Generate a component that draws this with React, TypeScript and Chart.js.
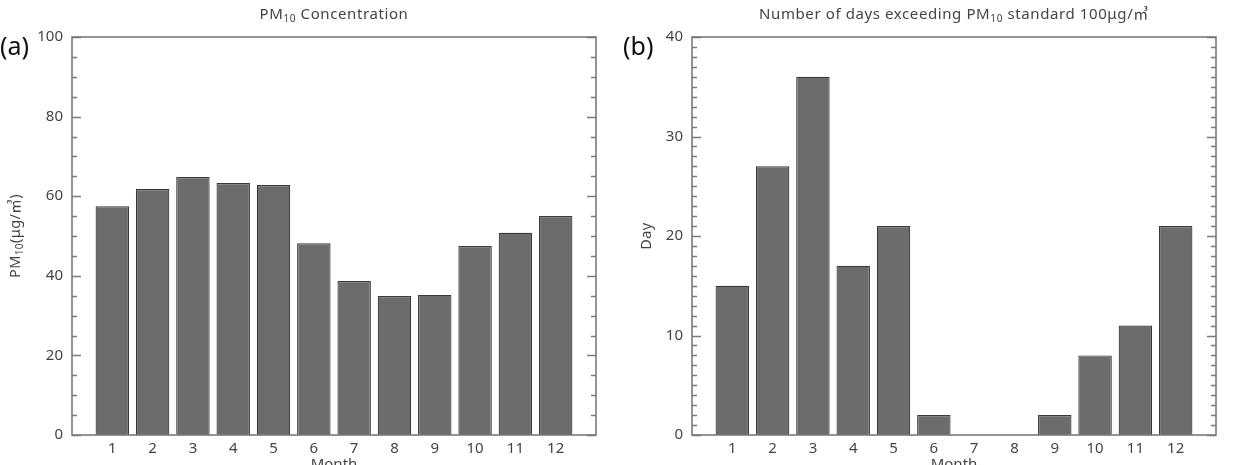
import React, { useEffect, useRef } from 'react';
import { Chart, registerables } from 'chart.js';

Chart.register(...registerables);

// Monthly data
const MONTHS = [1, 2, 3, 4, 5, 6, 7, 8, 9, 10, 11, 12];
const PM10_CONC = [57.5, 61.8, 64.8, 63.3, 62.8, 48.2, 38.7, 34.9, 35.2, 47.5, 50.8, 55.0];
const EXCEED_DAYS = [15, 27, 36, 17, 21, 2, 0, 0, 2, 8, 11, 21];

// Axis ticks
const CONC_TICKS = [0, 20, 40, 60, 80, 100];
const DAY_TICKS = [0, 10, 20, 30, 40];

const FONT = '"Noto Sans", "Noto Sans CJK KR", sans-serif';
const TEXT_COLOR = '#444';

type Seg = { t: string; sub?: boolean };

function drawRich(
  ctx: CanvasRenderingContext2D,
  segs: Seg[],
  x: number,
  y: number,
  size: number,
  color: string,
  spacing = 0
) {
  const subSize = Math.round(size * 0.66);
  (ctx as any).letterSpacing = `${spacing}px`;
  const widths = segs.map((s) => {
    ctx.font = `${s.sub ? subSize : size}px ${FONT}`;
    return ctx.measureText(s.t).width;
  });
  const total = widths.reduce((a, b) => a + b, 0);
  let cx = x - total / 2;
  ctx.fillStyle = color;
  ctx.textAlign = 'left';
  ctx.textBaseline = 'middle';
  segs.forEach((s, i) => {
    ctx.font = `${s.sub ? subSize : size}px ${FONT}`;
    ctx.fillText(s.t, cx, s.sub ? y + size * 0.3 : y);
    cx += widths[i];
  });
  (ctx as any).letterSpacing = '0px';
}

type PanelCfg = {
  values: number[];
  yMax: number;
  majorTicks: number[];
  minorStep: number;
  title: Seg[];
  yLabel: Seg[];
  yLabelX: number;
  tag: string;
  tagX: number;
  leftWidth: number;
  rightPad: number;
  width: number;
};

const PANEL_A: PanelCfg = {
  values: PM10_CONC,
  yMax: 100,
  majorTicks: CONC_TICKS,
  minorStep: 5,
  title: [{ t: 'PM' }, { t: '10', sub: true }, { t: ' Concentration' }],
  yLabel: [{ t: 'PM' }, { t: '10', sub: true }, { t: '(μg/㎥)' }],
  yLabelX: 16,
  tag: '(a)',
  tagX: 0,
  leftWidth: 72,
  rightPad: 20,
  width: 616,
};

const PANEL_B: PanelCfg = {
  values: EXCEED_DAYS,
  yMax: 40,
  majorTicks: DAY_TICKS,
  minorStep: 1,
  title: [{ t: 'Number of days exceeding PM' }, { t: '10', sub: true }, { t: ' standard 100μg/㎥' }],
  yLabel: [{ t: 'Day' }],
  yLabelX: 31,
  tag: '(b)',
  tagX: 7,
  leftWidth: 76,
  rightPad: 17,
  width: 617,
};

function Panel({ cfg }: { cfg: PanelCfg }) {
  const ref = useRef<HTMLCanvasElement>(null);

  useEffect(() => {
    if (!ref.current) return;

    const decorations = {
      id: 'panelDecorations',
      afterDraw(chart: any) {
        const ctx: CanvasRenderingContext2D = chart.ctx;
        const { left, right, top, bottom } = chart.chartArea;
        const yScale = chart.scales.y;
        ctx.save();

        // inward tick marks on both vertical sides
        ctx.strokeStyle = '#7a7a7a';
        ctx.lineWidth = 1.3;
        for (let v = 0; v <= cfg.yMax + 1e-9; v += cfg.minorStep) {
          const p = Math.round(yScale.getPixelForValue(v)) + 0.5;
          const major = cfg.majorTicks.includes(v);
          const len = major ? 9 : 5;
          ctx.beginPath();
          ctx.moveTo(left, p);
          ctx.lineTo(left + len, p);
          ctx.moveTo(right, p);
          ctx.lineTo(right - len, p);
          ctx.stroke();
        }

        // plot frame
        ctx.strokeStyle = '#7a7a7a';
        ctx.lineWidth = 1.6;
        ctx.strokeRect(left, top, right - left, bottom - top);

        const cx = (left + right) / 2;
        // title
        drawRich(ctx, cfg.title, cx, 15, 15, TEXT_COLOR, 0.6);

        // y-axis title
        ctx.save();
        ctx.translate(cfg.yLabelX, (top + bottom) / 2);
        ctx.rotate(-Math.PI / 2);
        drawRich(ctx, cfg.yLabel, 0, 0, 14.5, TEXT_COLOR, 0.4);
        ctx.restore();

        // x-axis title
        ctx.fillStyle = TEXT_COLOR;
        ctx.font = `15px ${FONT}`;
        ctx.textAlign = 'center';
        ctx.textBaseline = 'alphabetic';
        ctx.fillText('Month', cx, bottom + 34);

        // panel tag
        ctx.fillStyle = '#111';
        ctx.font = `25px ${FONT}`;
        ctx.textAlign = 'left';
        ctx.textBaseline = 'middle';
        ctx.fillText(cfg.tag, cfg.tagX, 48);

        ctx.restore();
      },
    };

    const chart = new Chart(ref.current, {
      type: 'bar',
      data: {
        datasets: [
          {
            data: MONTHS.map((m, i) => ({ x: m, y: cfg.values[i] })),
            backgroundColor: '#6c6c6c',
            borderColor: '#3a3a3a',
            borderWidth: 1.2,
            borderSkipped: 'bottom',
            barPercentage: 0.83,
            categoryPercentage: 1,
          },
        ],
      },
      options: {
        responsive: false,
        animation: false,
        layout: { padding: { top: 37, right: cfg.rightPad, left: 0, bottom: 0 } },
        plugins: {
          legend: { display: false },
          tooltip: { enabled: false },
          title: { display: false },
        },
        scales: {
          x: {
            type: 'linear',
            min: 0,
            max: 13,
            offset: false,
            grid: { display: false, drawTicks: false },
            border: { display: false },
            afterBuildTicks: (s: any) => {
              s.ticks = MONTHS.map((v) => ({ value: v }));
            },
            afterFit: (s: any) => {
              s.height = 30;
            },
            ticks: {
              autoSkip: false,
              maxRotation: 0,
              padding: 5,
              color: TEXT_COLOR,
              font: { family: FONT, size: 15 },
              callback: (v: any) => String(v),
            },
          },
          y: {
            min: 0,
            max: cfg.yMax,
            grid: { display: false, drawTicks: false },
            border: { display: false },
            afterBuildTicks: (s: any) => {
              s.ticks = cfg.majorTicks.map((v) => ({ value: v }));
            },
            afterFit: (s: any) => {
              s.width = cfg.leftWidth;
            },
            ticks: {
              padding: 9,
              color: TEXT_COLOR,
              font: { family: FONT, size: 15 },
            },
          },
        },
      } as any,
      plugins: [decorations],
    });

    return () => chart.destroy();
  }, [cfg]);

  return <canvas ref={ref} width={cfg.width} height={465} style={{ display: 'block' }} />;
}

export default function App() {
  return (
    <div
      style={{
        position: 'fixed',
        top: 0,
        left: 0,
        width: 1233,
        height: 465,
        background: '#fff',
        display: 'flex',
        overflow: 'hidden',
      }}
    >
      <Panel cfg={PANEL_A} />
      <Panel cfg={PANEL_B} />
    </div>
  );
}
